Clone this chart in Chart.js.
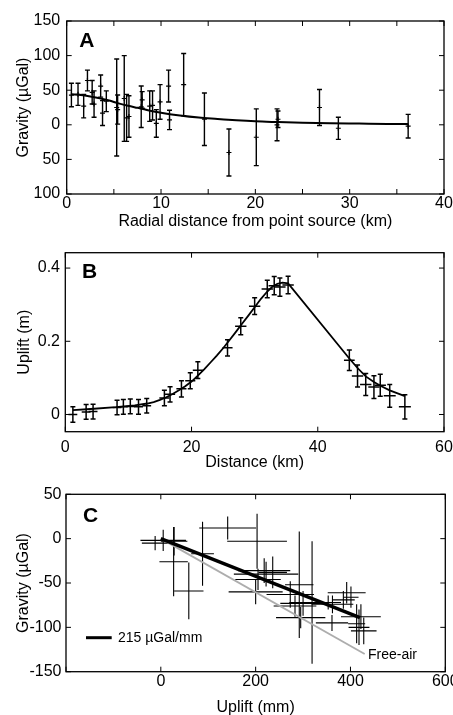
<!DOCTYPE html>
<html>
<head>
<meta charset="utf-8">
<script src="https://cdn.jsdelivr.net/npm/chart.js@4.4.1/dist/chart.umd.min.js"></script>
<style>
    html, body { margin: 0; padding: 0; background: #fff; overflow: hidden; }
    #wrap { position: relative; width: 453px; height: 715px; overflow: hidden; }
    canvas { position: absolute; left: 0; }
</style>
</head>
<body>
<div id="wrap">
    <canvas id="chartA" width="453" height="240" style="top:0px"></canvas>
    <canvas id="chartB" width="453" height="238" style="top:240px"></canvas>
    <canvas id="chartC" width="453" height="245" style="top:478px"></canvas>
</div>
<script>
// ---- panel A: gravity vs radial distance
const aDist = [0.5, 1.2, 1.8, 2.2, 2.7, 2.9, 3.6, 3.8, 4.2, 5.3, 5.4, 6.1, 6.35, 6.6, 7.9, 8.0, 8.8, 9.1, 9.5, 9.9, 10.8, 10.9, 12.4, 14.6, 17.2, 20.1, 22.3, 22.4, 26.8, 28.8, 36.2]
const aGrav = [43, 44, 27, 64, 47, 30, 56, 17, 34, 25, 22, 38, 10, 12, 26, 36, 27, 28, 2, 33, 56, 7, 58, 8, -40, -18, 0, 8, 25, -5, -2]
const aGravErr = [17, 16, 17, 15, 17, 19, 16, 18, 15, 70, 21, 62, 34, 30, 30, 12, 22, 21, 20, 25, 23, 14, 45, 38, 34, 41, 23, 12, 26, 16, 17]
const aModelDist = [0.5, 1.5, 2.5, 3.5, 4.5, 5.5, 6.5, 7.5, 8.5, 10, 12, 14, 16, 18, 20, 22.3, 25, 28, 31, 34, 36.2]
const aModelGrav = [44, 43, 41, 38.5, 35, 31, 27.5, 24.5, 21.5, 17.5, 13.5, 10.5, 8.5, 6.5, 5, 4, 3, 2.3, 1.8, 1.3, 1]
const aTicksX = [0, 10, 20, 30, 40]

// ---- panel B: uplift vs distance
const bDist = [1.2, 3.3, 4.4, 8.2, 9.2, 10.3, 11.6, 12.9, 15.7, 16.6, 18.4, 19.8, 21.0, 25.7, 27.8, 30.0, 32.0, 33.1, 34.0, 35.3, 45.0, 46.3, 47.6, 48.9, 49.9, 51.4, 53.8]
const bUplift = [0.000, 0.007, 0.008, 0.019, 0.021, 0.022, 0.021, 0.024, 0.045, 0.055, 0.070, 0.092, 0.121, 0.182, 0.241, 0.296, 0.343, 0.352, 0.348, 0.354, 0.148, 0.105, 0.082, 0.075, 0.080, 0.051, 0.021]
const bUpliftErr = [0.021, 0.02, 0.02, 0.02, 0.02, 0.02, 0.02, 0.02, 0.021, 0.021, 0.022, 0.022, 0.023, 0.022, 0.023, 0.023, 0.024, 0.025, 0.025, 0.024, 0.028, 0.03, 0.03, 0.031, 0.03, 0.031, 0.033]
const bDistErr = [0.7, 0.7, 0.7, 0.7, 0.7, 0.7, 0.7, 0.7, 0.8, 0.8, 0.8, 0.8, 0.8, 0.8, 0.9, 0.9, 0.9, 0.9, 0.9, 0.9, 0.85, 0.9, 0.9, 0.9, 0.9, 0.95, 0.95]
const bModelDist = [1.2, 4, 8, 11, 13, 14, 15, 16, 17, 18, 19, 20, 21, 22, 23, 24, 25, 26, 27, 28, 29, 30, 31, 32, 32.8, 33.6, 34.4, 35.3, 45, 46.3, 47.6, 48.9, 50, 51.4, 53.8]
const bModelUplift = [0.012, 0.015, 0.02, 0.025, 0.03, 0.034, 0.04, 0.047, 0.056, 0.066, 0.077, 0.09, 0.106, 0.123, 0.142, 0.161, 0.181, 0.203, 0.225, 0.248, 0.27, 0.293, 0.316, 0.336, 0.349, 0.357, 0.36, 0.358, 0.153, 0.127, 0.104, 0.089, 0.078, 0.066, 0.05]
const bTicksY = [0, 0.2, 0.4]

// ---- panel C: gravity vs uplift
const cUplift = [5, -12, 28, 27, 59, 88, 141, 203, 218, 222, 205, 200, 236, 292, 319, 273, 300, 283, 295, 353, 361, 362, 392, 401, 385, 422, 418, 428, 413]
const cGrav = [-2, -5, -3, -26, -59, -17, 12, -3, -36, -40, -46, -60, -38, -52, -72, -63, -73, -76, -89, -72, -95, -74, -61, -66, -69, -88, -100, -104, -96]
const cUpliftErr = [48, 28, 28, 30, 31, 24, 60, 63, 55, 68, 48, 57, 30, 30, 48, 50, 48, 45, 52, 27, 34, 44, 40, 16, 24, 42, 22, 27, 18]
const cGravErr = [12, 8, 16, 39, 32, 36, 13, 31, 14, 14, 12, 14, 18, 60, 69, 15, 14, 12, 12, 8, 9, 10, 12, 12, 10, 14, 20, 15, 22]
const cFitUplift = [0, 420]
const cFitGrav = [0, -89]
const cFreeAirUplift = [0, 430]
const cFreeAirGrav = [0, -130]

const FONT = 'Arial, "Liberation Sans", Helvetica, sans-serif'
Chart.defaults.font.family = FONT
Chart.defaults.font.size = 16
Chart.defaults.color = '#000'

const toPoints = (xs, ys) => xs.map((x, i) => ({ x: x, y: ys[i] }))

// error bars are drawn from each dataset's errY / errX arrays through the scales
const errorBars = {
    id: 'errorBars',
    beforeDatasetsDraw(chart) {
        const { ctx, scales: { x, y } } = chart
        chart.data.datasets.forEach(ds => {
            if (!ds.errY) return
            ctx.save()
            ctx.strokeStyle = '#000'
            ctx.lineWidth = ds.barWidth || 1
            ds.data.forEach((p, i) => {
                const px = x.getPixelForValue(p.x)
                const py = y.getPixelForValue(p.y)
                const top = y.getPixelForValue(p.y + ds.errY[i])
                const bot = y.getPixelForValue(p.y - ds.errY[i])
                ctx.beginPath()
                ctx.moveTo(px, top); ctx.lineTo(px, bot)
                if (ds.cap) {
                    ctx.moveTo(px - ds.cap, top); ctx.lineTo(px + ds.cap, top)
                    ctx.moveTo(px - ds.cap, bot); ctx.lineTo(px + ds.cap, bot)
                }
                if (ds.errX) {
                    ctx.moveTo(x.getPixelForValue(p.x - ds.errX[i]), py)
                    ctx.lineTo(x.getPixelForValue(p.x + ds.errX[i]), py)
                }
                ctx.stroke()
            })
            ctx.restore()
        })
    }
}

// box round the plot, inward ticks on all four sides, panel letter and notes
const frame = {
    id: 'frame',
    afterDraw(chart, args, opts) {
        const { ctx, chartArea: a, scales: { x, y } } = chart
        ctx.save()
        ctx.strokeStyle = '#000'
        ctx.lineWidth = 1.3
        ctx.strokeRect(a.left, a.top, a.right - a.left, a.bottom - a.top)
        ctx.lineWidth = 1
        ctx.beginPath()
        x.ticks.forEach(t => {
            const px = x.getPixelForValue(t.value)
            ctx.moveTo(px, a.bottom); ctx.lineTo(px, a.bottom - 5)
            ctx.moveTo(px, a.top); ctx.lineTo(px, a.top + 5)
        })
        y.ticks.forEach(t => {
            const py = y.getPixelForValue(t.value)
            ctx.moveTo(a.left, py); ctx.lineTo(a.left + 5, py)
            ctx.moveTo(a.right, py); ctx.lineTo(a.right - 5, py)
        })
        ctx.stroke()

        ctx.fillStyle = '#000'
        ctx.font = 'bold 21px ' + FONT
        ctx.textBaseline = 'alphabetic'
        ctx.fillText(opts.letter, a.left + opts.letterX, a.top + opts.letterY)

        ;(opts.notes || []).forEach(n => {
            if (n.line) {
                ctx.lineWidth = n.width
                ctx.beginPath()
                ctx.moveTo(a.left + n.line[0], a.top + n.y)
                ctx.lineTo(a.left + n.line[1], a.top + n.y)
                ctx.stroke()
            } else {
                ctx.font = '14px ' + FONT
                ctx.textBaseline = 'middle'
                ctx.fillText(n.text, a.left + n.x, a.top + n.y)
            }
        })
        ctx.restore()
    }
}

function axisX(min, max, step, height, tickPad, titleText, titlePad, labelFilter) {
    return {
        type: 'linear', min: min, max: max,
        grid: { display: false, drawTicks: false },
        border: { display: false },
        ticks: {
            stepSize: step, padding: tickPad, autoSkip: false, maxRotation: 0,
            callback: v => labelFilter(v) ? String(v) : ''
        },
        title: { display: true, text: titleText, padding: { top: 0, bottom: titlePad } },
        afterFit: s => { s.height = height; s.paddingLeft = 0; s.paddingRight = 0 }
    }
}

function axisY(min, max, width, tickPad, titleText, titlePad, extra) {
    return Object.assign({
        type: 'linear', min: min, max: max,
        grid: { display: false, drawTicks: false },
        border: { display: false },
        title: { display: true, text: titleText, padding: { top: titlePad, bottom: 0 } },
        afterFit: s => { s.width = width; s.paddingTop = 0; s.paddingBottom = 0 }
    }, extra)
}

const common = {
    responsive: false,
    animation: false,
    events: [],
}

// ---- A
new Chart(document.getElementById('chartA'), {
    type: 'scatter',
    data: {
        datasets: [
            {
                label: 'model',
                data: toPoints(aModelDist, aModelGrav),
                showLine: true, pointRadius: 0, borderColor: '#000', borderWidth: 2,
                cubicInterpolationMode: 'monotone'
            },
            {
                label: 'gravity',
                data: toPoints(aDist, aGrav),
                errY: aGravErr, cap: 2.5, barWidth: 1.4,
                pointStyle: 'cross', pointRadius: 2.5, borderColor: '#000', borderWidth: 1.2
            }
        ]
    },
    options: Object.assign({}, common, {
        layout: { padding: { top: 21, right: 9, left: 0, bottom: 0 } },
        plugins: {
            legend: { display: false }, tooltip: { enabled: false },
            frame: { letter: 'A', letterX: 12.5, letterY: 26 }
        },
        scales: {
            x: axisX(0, 40, 5, 46, 0, 'Radial distance from point source (km)', 8.7, v => aTicksX.includes(v)),
            y: axisY(-100, 150, 66.7, 6.5, 'Gravity (µGal)', 14.4, {
                ticks: { stepSize: 50, padding: 6.5, callback: v => String(Math.abs(v)) }
            })
        }
    }),
    plugins: [errorBars, frame]
})

// ---- B
new Chart(document.getElementById('chartB'), {
    type: 'scatter',
    data: {
        datasets: [
            {
                label: 'model',
                data: toPoints(bModelDist, bModelUplift),
                showLine: true, pointRadius: 0, borderColor: '#000', borderWidth: 1.8,
                tension: 0
            },
            {
                label: 'uplift',
                data: toPoints(bDist, bUplift),
                errY: bUpliftErr, errX: bDistErr, cap: 2.5, barWidth: 1.5,
                pointRadius: 0
            }
        ]
    },
    options: Object.assign({}, common, {
        layout: { padding: { top: 12.7, right: 9, left: 0, bottom: 0 } },
        plugins: {
            legend: { display: false }, tooltip: { enabled: false },
            frame: { letter: 'B', letterX: 16.7, letterY: 25.3 }
        },
        scales: {
            x: axisX(0, 60, 20, 46.3, 6, 'Distance (km)', 5.4, v => true),
            y: axisY(-0.047, 0.442, 65.3, 5.3, 'Uplift (m)', 15.4, {
                afterBuildTicks: s => { s.ticks = bTicksY.map(v => ({ value: v })) },
                ticks: { padding: 5.3, callback: v => String(v) }
            })
        }
    }),
    plugins: [errorBars, frame]
})

// ---- C
new Chart(document.getElementById('chartC'), {
    type: 'scatter',
    data: {
        datasets: [
            {
                label: '215 µGal/mm',
                data: toPoints(cFitUplift, cFitGrav),
                showLine: true, pointRadius: 0, borderColor: '#000', borderWidth: 3.5
            },
            {
                label: 'Free-air',
                data: toPoints(cFreeAirUplift, cFreeAirGrav),
                showLine: true, pointRadius: 0, borderColor: '#adadad', borderWidth: 1.8
            },
            {
                label: 'gravity',
                data: toPoints(cUplift, cGrav),
                errY: cGravErr, errX: cUpliftErr, barWidth: 1.1,
                pointRadius: 0
            }
        ]
    },
    options: Object.assign({}, common, {
        layout: { padding: { top: 16.3, right: 7.7, left: 0, bottom: 0 } },
        plugins: {
            legend: { display: false }, tooltip: { enabled: false },
            frame: {
                letter: 'C', letterX: 17, letterY: 27.7,
                notes: [
                    { line: [20, 45.7], y: 143.4, width: 3 },
                    { text: '215 µGal/mm', x: 52, y: 143.4 },
                    { text: 'Free-air', x: 302, y: 160.7 }
                ]
            }
        },
        scales: {
            x: axisX(-200, 600, 200, 51.3, 0, 'Uplift (mm)', 5.4, v => v >= 0),
            y: axisY(-150, 50, 66, 4.5, 'Gravity (µGal)', 14.4, {
                ticks: { stepSize: 50, padding: 4.5 }
            })
        }
    }),
    plugins: [errorBars, frame]
})
</script>
</body>
</html>
